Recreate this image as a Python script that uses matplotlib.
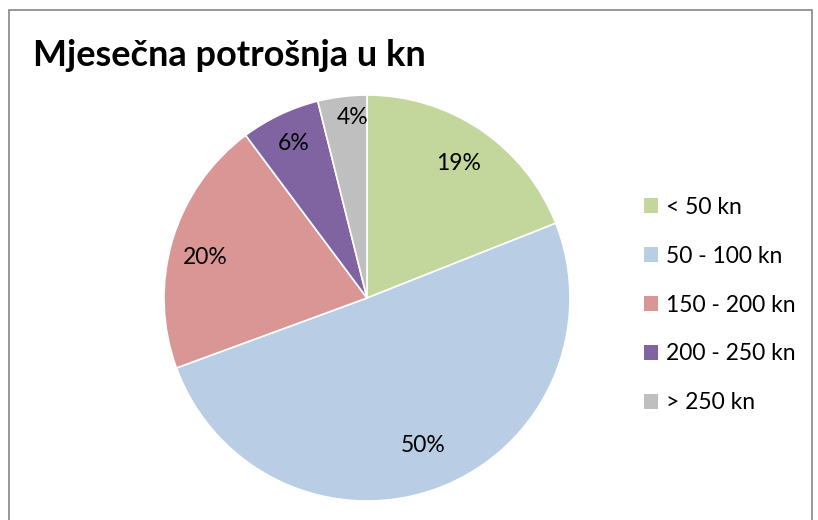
import matplotlib
matplotlib.use("Agg")
import matplotlib.pyplot as plt
import numpy as np
from matplotlib.patches import Rectangle

# data
categories = ["< 50 kn", "50 - 100 kn", "150 - 200 kn", "200 - 250 kn", "> 250 kn"]
shares = [19.0, 50.4, 20.4, 6.3, 3.9]
colors = ["#C3D69B", "#B9CDE5", "#D99694", "#8064A2", "#BFBFBF"]
title = "Mjesečna potrošnja u kn"

plt.rcParams["font.family"] = ["Lato", "DejaVu Sans"]

fig = plt.figure(figsize=(8.18, 5.2), dpi=100)
W, H = 818, 520

# outer chart frame (runs off the bottom of the image)
fig.patches.append(Rectangle((9 / W, -0.05), (812 - 9) / W, 1.05 - 10 / H,
                             transform=fig.transFigure, fill=False,
                             edgecolor="#868686", lw=1.2))

fig.text(33 / W, 1 - 55 / H, title, fontsize=26, fontweight="bold",
         ha="left", va="center")

# pie centred at (367, 298) px, radius ~203 px
cx, cy, r = 367, 298, 203
ax = fig.add_axes([(cx - r) / W, 1 - (cy + r) / H, 2 * r / W, 2 * r / H])
wedges, texts, autotexts = ax.pie(
    shares, colors=colors, startangle=90, counterclock=False,
    autopct=lambda p: f"{p:.0f}%", pctdistance=0.8,
    wedgeprops=dict(edgecolor="white", linewidth=1.2),
    textprops=dict(fontsize=16.5, color="black"))
ax.set_xlim(-1, 1)
ax.set_ylim(-1, 1)
ax.set_aspect("equal")

# Excel "best fit" style label placement (distance, angle nudge in degrees)
label_dist = [0.80, 0.78, 0.82, 0.84, 0.89]
label_nudge = [0, 0, 2.5, 0, -2.5]
for w, t, d, n in zip(wedges, autotexts, label_dist, label_nudge):
    ang = np.deg2rad((w.theta1 + w.theta2) / 2 + n)
    t.set_position((d * np.cos(ang), d * np.sin(ang)))

handles = [Rectangle((0, 0), 1, 1, facecolor=c) for c in colors]
fig.legend(handles, categories, loc="center left",
           bbox_to_anchor=(633 / W, 1 - 305 / H), frameon=False,
           fontsize=16.5, handlelength=0.6, handleheight=0.6,
           handletextpad=0.35, labelspacing=1.22, borderpad=0)

fig.savefig("out.png", dpi=100)
